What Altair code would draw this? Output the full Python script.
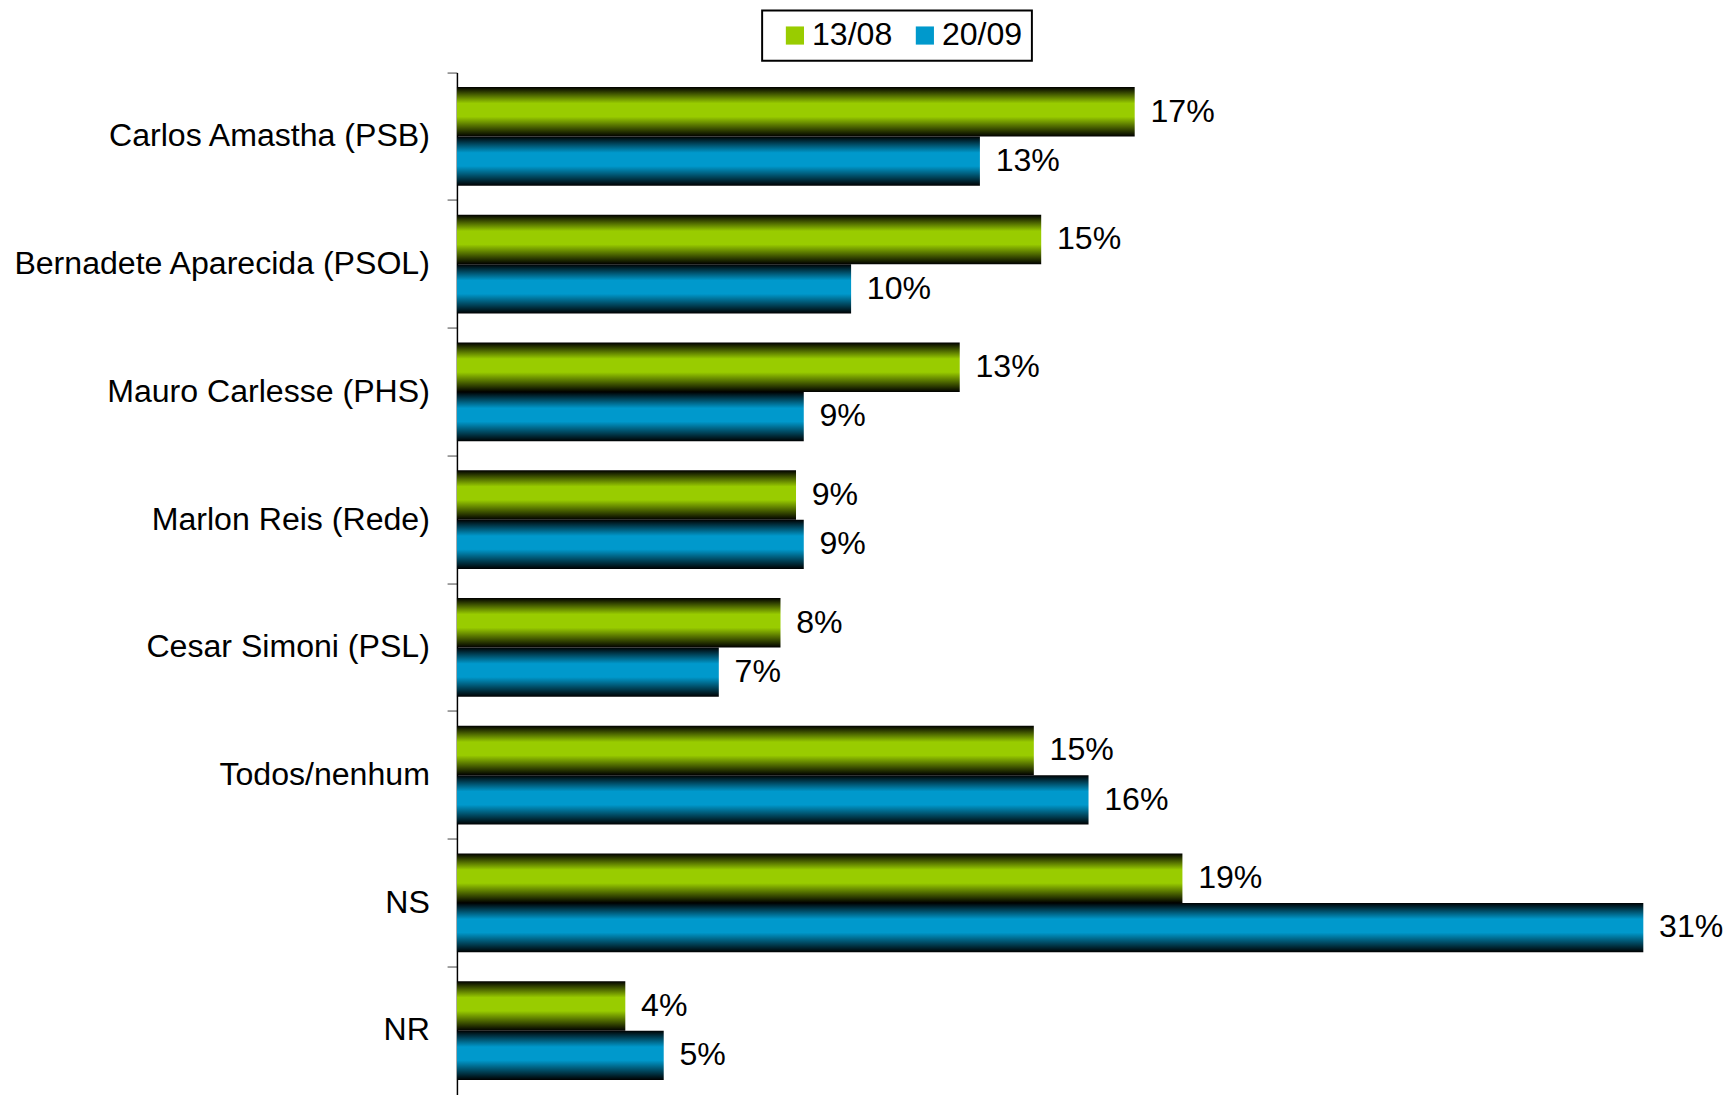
import altair as alt
import pandas as pd

categories = ["Carlos Amastha (PSB)", "Bernadete Aparecida (PSOL)", "Mauro Carlesse (PHS)",
              "Marlon Reis (Rede)", "Cesar Simoni (PSL)", "Todos/nenhum", "NS", "NR"]
series = ["13/08", "20/09"]
values_1308 = [17.47, 15.06, 12.96, 8.74, 8.34, 14.87, 18.70, 4.34]
values_2009 = [13.48, 10.16, 8.94, 8.94, 6.75, 16.28, 30.58, 5.33]
labels_1308 = ["17%", "15%", "13%", "9%", "8%", "15%", "19%", "4%"]
labels_2009 = ["13%", "10%", "9%", "9%", "7%", "16%", "31%", "5%"]

GREEN = "#99CC00"
BLUE = "#0099CC"
FONT = "Liberation Sans"
FS = 32.6

rows = []
for c, v, l in zip(categories, values_1308, labels_1308):
    rows.append({"cat": c, "serie": series[0], "value": v, "label": l})
for c, v, l in zip(categories, values_2009, labels_2009):
    rows.append({"cat": c, "serie": series[1], "value": v, "label": l})
df = pd.DataFrame(rows)


def grad(color):
    return alt.Gradient(
        gradient="linear", x1=0, y1=0, x2=0, y2=1,
        stops=[
            alt.GradientStop(color="#000000", offset=0),
            alt.GradientStop(color=color, offset=0.33),
            alt.GradientStop(color=color, offset=0.6),
            alt.GradientStop(color="#000000", offset=1),
        ],
    )


y_enc = alt.Y(
    "cat:N", sort=categories,
    scale=alt.Scale(paddingInner=0, paddingOuter=0),
    axis=alt.Axis(
        title=None, bandPosition=0, grid=False,
        labelFont=FONT, labelFontSize=FS, labelColor="#000000", labelLimit=1000,
        labelPadding=18, tickSize=10, tickColor="#808080", tickWidth=1.5,
        domainColor="#000000", domainWidth=1.5,
    ),
)
yoff_enc = alt.YOffset("serie:N", sort=series, scale=alt.Scale(paddingOuter=0.293, paddingInner=0))
x_enc = alt.X("value:Q", scale=alt.Scale(domain=[0, 32], nice=False, zero=True), axis=None)

base = alt.Chart(df).encode(y=y_enc, yOffset=yoff_enc, x=x_enc)

bars_g = base.transform_filter(alt.datum.serie == series[0]).mark_bar(fill=grad(GREEN))
bars_b = base.transform_filter(alt.datum.serie == series[1]).mark_bar(fill=grad(BLUE))

texts = base.mark_text(align="left", baseline="middle", dx=16, font=FONT, fontSize=FS, color="#000000").encode(
    text="label:N"
)

legend_layer = base.mark_square(opacity=0, size=1).encode(
    color=alt.Color(
        "serie:N", sort=series,
        scale=alt.Scale(domain=series, range=[GREEN, BLUE]),
        legend=alt.Legend(
            title=None, orient="none", legendX=310, legendY=-63, direction="horizontal",
            symbolType="square", symbolSize=340, symbolOpacity=1, symbolStrokeWidth=0,
            symbolOffset=8, labelFont=FONT, labelFontSize=FS, labelColor="#000000", labelOffset=1,
            columnPadding=8, padding=9, strokeColor="#000000", fillColor="#FFFFFF",
        ),
    )
)

chart = (
    alt.layer(bars_g, bars_b, texts, legend_layer)
    .properties(width=1261, height=1038, padding={"left": 4, "top": -7, "right": 0, "bottom": 0})
    .configure_view(strokeWidth=0)
    .configure_legend(strokeWidth=2)
)

chart.save("out.html", embed_options={"renderer": "svg", "actions": False})
